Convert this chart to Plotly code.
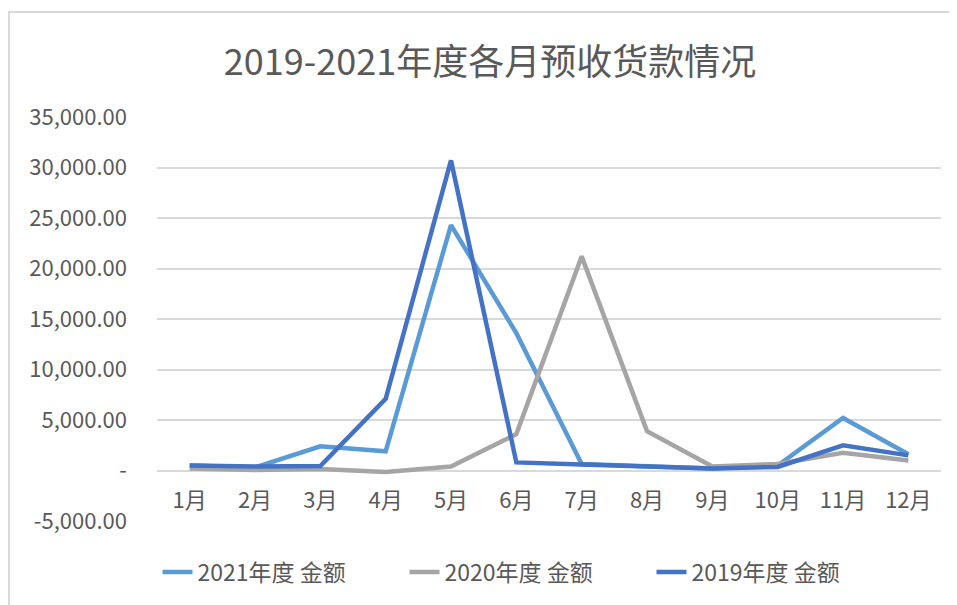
import plotly.graph_objects as go

months = ["1月", "2月", "3月", "4月", "5月", "6月", "7月", "8月", "9月", "10月", "11月", "12月"]
y2021 = [500, 300, 2400, 1900, 24300, 13600, 650, 400, 200, 500, 5200, 1600]
y2020 = [200, 50, 150, -150, 400, 3600, 21200, 3900, 400, 650, 1750, 1000]
y2019 = [500, 400, 450, 7100, 30700, 800, 600, 400, 200, 350, 2500, 1500]

series_names = ["2021年度 金额", "2020年度 金额", "2019年度 金额"]
series_values = [y2021, y2020, y2019]
series_colors = ["#5B9BD5", "#A5A5A5", "#4472C4"]

tick_vals = [-5000, 0, 5000, 10000, 15000, 20000, 25000, 30000, 35000]
tick_text = ["-5,000.00", "-", "5,000.00", "10,000.00", "15,000.00", "20,000.00",
             "25,000.00", "30,000.00", "35,000.00"]

FONT = "Noto Sans CJK SC"
TXT = "#595959"

fig = go.Figure()
for name, vals, col in zip(series_names, series_values, series_colors):
    fig.add_trace(go.Scatter(x=months, y=vals, name=name, mode="lines",
                             line=dict(color=col, width=4.5)))

# page body has an 8px margin; screen coords = figure coords + 8
OFF = 8
W, H = 957 - OFF, 605 - OFF
L = 157 - OFF
T = 117 - OFF
R = W - (941 - OFF)
B = H - (521 - OFF)
pw, ph = W - L - R, H - T - B

def sx(px):
    return (px - OFF - L) / pw

def sy(py):
    return (H - B - (py - OFF)) / ph

fig.update_layout(
    width=W, height=H,
    margin=dict(l=L, r=R, t=T, b=B),
    paper_bgcolor="white", plot_bgcolor="white",
    font=dict(family=FONT, color=TXT, size=22),
    title=dict(text="2019-2021年度各月预收货款情况", x=(490 - OFF) / W, xanchor="center",
               xref="container", y=1 - (62 - OFF) / H, yanchor="middle",
               font=dict(family=FONT, size=36, color=TXT)),
    showlegend=True,
    legend=dict(orientation="h", x=sx(528), xanchor="center",
                y=sy(572), yanchor="middle",
                font=dict(family=FONT, size=23, color=TXT),
                entrywidth=202, entrywidthmode="pixels",
                bgcolor="rgba(0,0,0,0)"),
    xaxis=dict(anchor="free", position=sy(471), showgrid=False, showline=False,
               ticks="", tickfont=dict(family=FONT, size=22, color=TXT),
               ticklabelstandoff=14, range=[-0.5, 11.5]),
    yaxis=dict(range=[-5000, 35000], tickvals=tick_vals, ticktext=tick_text,
               showgrid=True, gridcolor="#D9D9D9", gridwidth=2, zeroline=False,
               showline=False, ticks="", ticklabelstandoff=29,
               tickfont=dict(family=FONT, size=22, color=TXT)),
    shapes=[dict(type="rect", xref="paper", yref="paper",
                 x0=sx(9), x1=sx(990), y0=sy(640), y1=sy(12),
                 line=dict(color="#D9D9D9", width=2), fillcolor="rgba(0,0,0,0)",
                 layer="below")],
)

fig.write_html("out.html")
